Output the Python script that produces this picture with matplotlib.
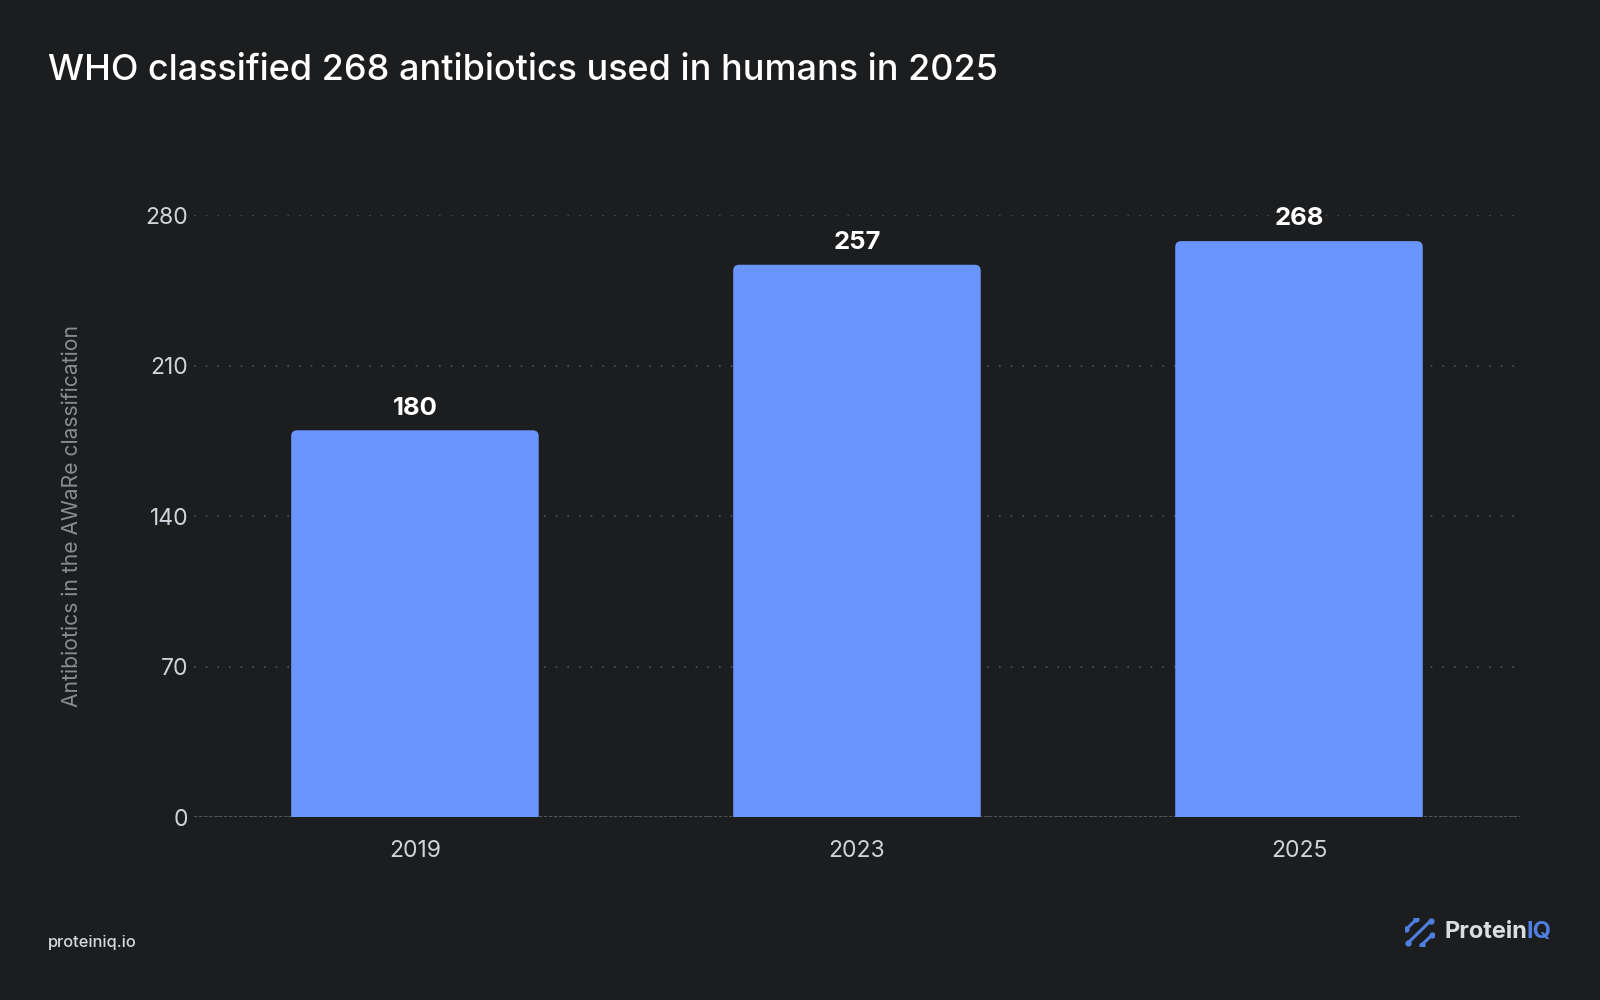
import matplotlib.pyplot as plt
from matplotlib.patches import FancyBboxPatch

years = ["2019", "2023", "2025"]
counts = [180, 257, 268]
y_ticks = [0, 70, 140, 210, 280]

BG = "#1c1d1f"
BAR = "#6a95ff"
BLUE = "#4f7fe0"
FONT = "Inter"

plt.rcParams["font.family"] = [FONT, "DejaVu Sans"]

fig = plt.figure(figsize=(16, 10), dpi=100, facecolor=BG)
ax_rect = [0.1212, 0.1827, 0.8288, 0.602]
ax = fig.add_axes(ax_rect)
ax.set_facecolor(BG)

x = list(range(len(years)))
bars = ax.bar(x, counts, width=0.56, color=BAR, zorder=3)

# swap the plain bars for ones with slightly rounded top corners;
# the box starts below zero so the bottom corners get clipped off
px_per_x = ax_rect[2] * 1600 / 3.0
px_per_y = ax_rect[3] * 1000 / 280.0
rad = 6 / px_per_x
aspect = px_per_x / px_per_y
for b in bars:
    bx, bw, bh = b.get_x(), b.get_width(), b.get_height()
    b.set_visible(False)
    ax.add_patch(FancyBboxPatch((bx, -10), bw, bh + 10,
                                boxstyle=f"round,pad=0,rounding_size={rad}",
                                mutation_aspect=aspect,
                                facecolor=BAR, edgecolor="none", zorder=3))
    ax.text(bx + bw / 2, bh + 5, f"{int(bh)}", ha="center", va="bottom",
            color="white", fontsize=18.5, fontweight="bold", zorder=4)

ax.set_xlim(-0.5, 2.5)
ax.set_ylim(0, 280)
ax.set_xticks(x)
ax.set_xticklabels(years)
ax.set_yticks(y_ticks)
ax.tick_params(axis="both", length=0, colors="#d0d4da", labelsize=16.5)
ax.tick_params(axis="x", pad=16)
ax.tick_params(axis="y", pad=4)

ax.grid(axis="y", color="#4f5257", linestyle=(0, (1, 6)), linewidth=1.2, zorder=0)
ax.axhline(0, color="#5a5c60", linestyle=(0, (2, 1)), linewidth=1.2, zorder=2)
for s in ax.spines.values():
    s.set_visible(False)

ax.set_ylabel("Antibiotics in the AWaRe classification", color="#8a8c90",
              fontsize=15.2, labelpad=46)

fig.text(0.03, 0.929, "WHO classified 268 antibiotics used in humans in 2025",
         color="white", fontsize=25.9, fontweight="medium", ha="left", va="center")

fig.text(0.03, 0.058, "proteiniq.io", color="#d8dadd", fontsize=11.8,
         fontweight="medium", ha="left", va="center")

# ProteinIQ logo
logo_ax = fig.add_axes([0.878, 0.054, 0.018, 0.028])
logo_ax.set_xlim(0, 1)
logo_ax.set_ylim(0, 1)
logo_ax.axis("off")
for (x0, y0, x1, y1) in [(0.05, 0.6, 0.4, 0.95), (0.1, 0.1, 0.9, 0.9),
                         (0.6, 0.05, 0.95, 0.4)]:
    logo_ax.plot([x0, x1], [y0, y1], color=BLUE, lw=2.2, solid_capstyle="round")
    logo_ax.plot([x0, x1], [y0, y1], "o", color=BLUE, ms=3.5)

iq = fig.text(0.97, 0.068, "IQ", color=BLUE, fontsize=17,
              fontweight="bold", ha="right", va="center")
renderer = fig.canvas.get_renderer()
bb = iq.get_window_extent(renderer=renderer)
fig.text(bb.x0 / fig.bbox.width, 0.068, "Protein", color="#dcdde0", fontsize=17,
         fontweight="bold", ha="right", va="center")

fig.savefig("out.png", dpi=100, facecolor=BG)
